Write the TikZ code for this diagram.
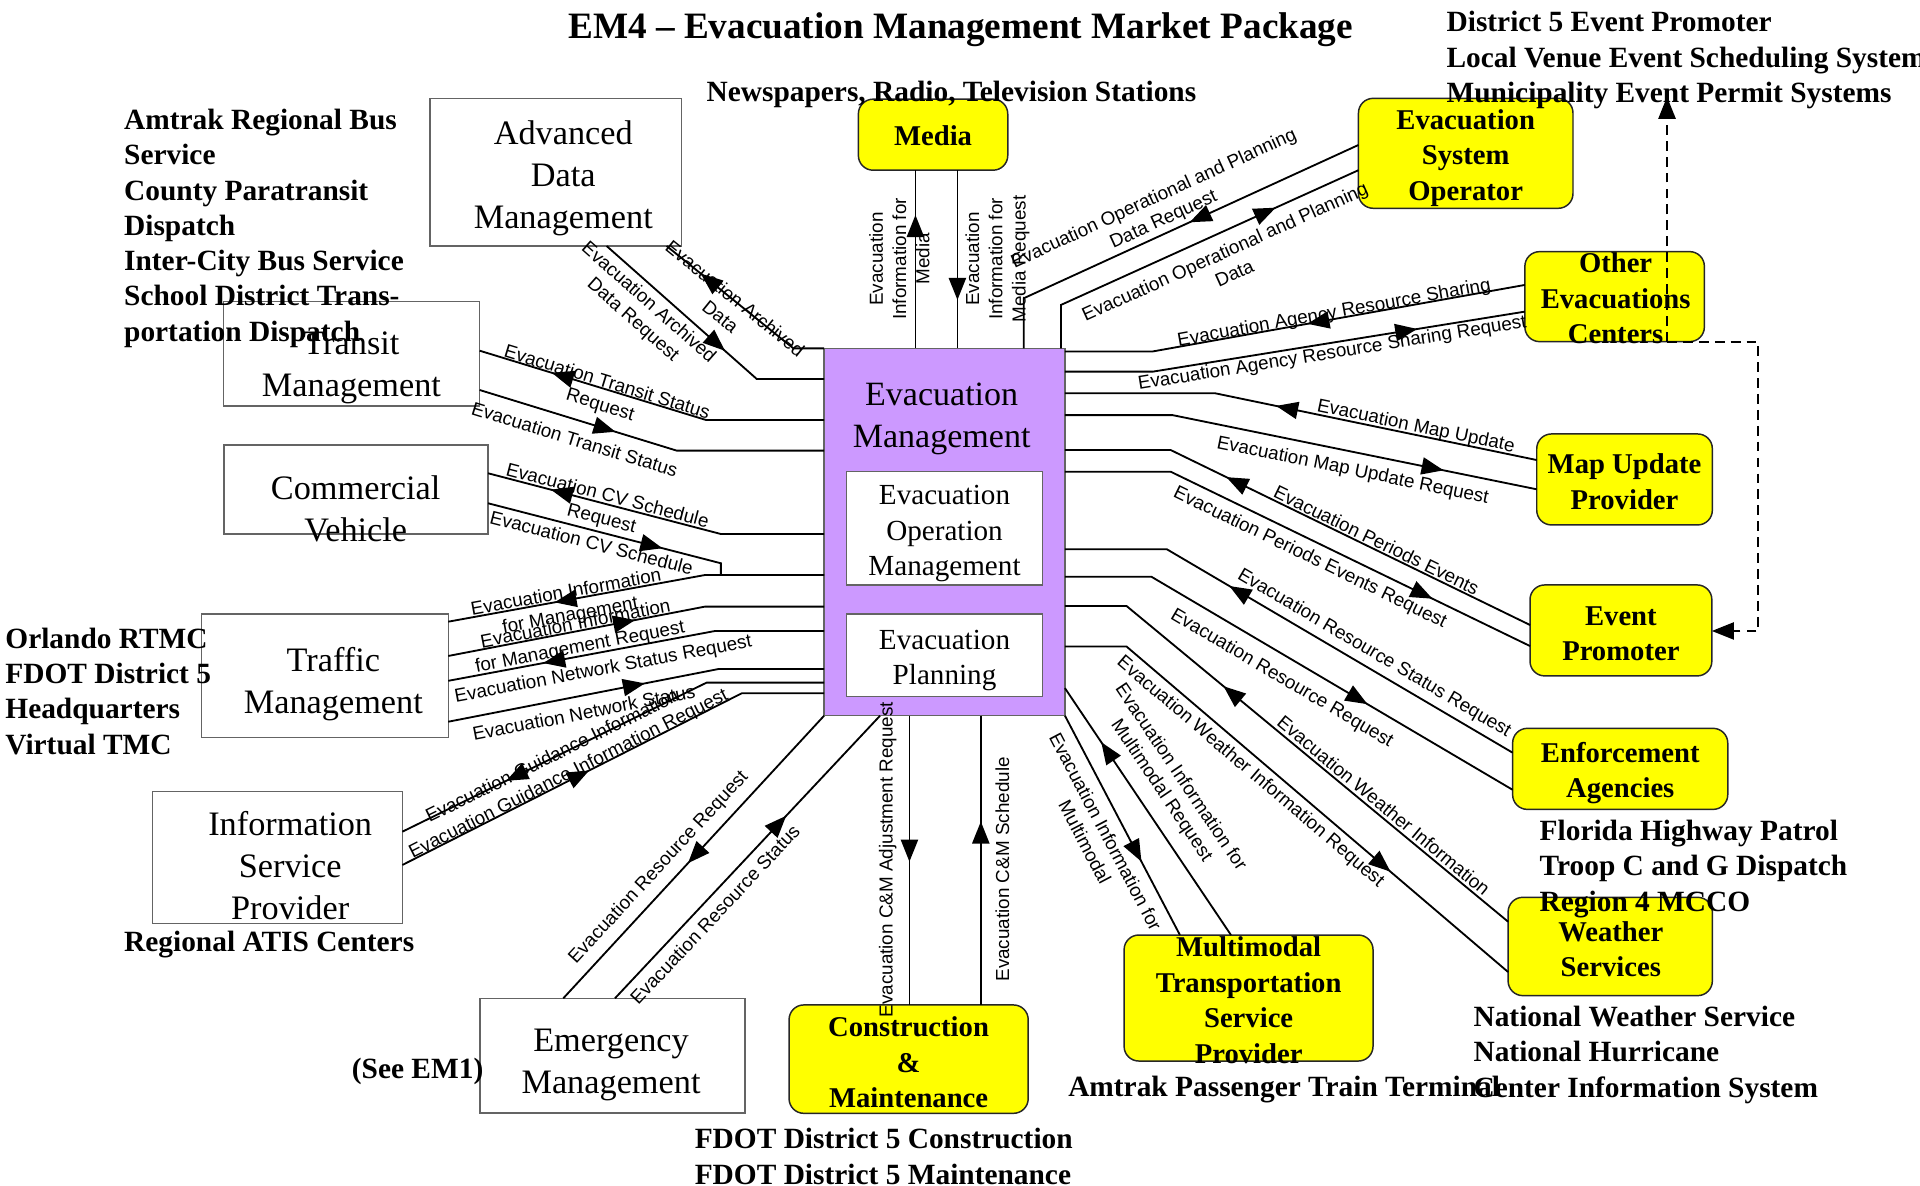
\documentclass[tikz,border=0pt]{standalone}
\usepackage{fontspec}
\setmainfont{Liberation Serif}
\setsansfont{Liberation Sans}
\usetikzlibrary{arrows.meta,calc,decorations.markings}
\definecolor{emP}{RGB}{204,153,255}
\definecolor{emY}{RGB}{255,255,0}
\definecolor{emG}{RGB}{100,100,100}
\tikzset{
  wbox/.style={draw=emG,line width=0.6pt,inner sep=0pt,outer sep=0pt},
  ybox/.style={draw=black!85,fill=emY,rounded corners=6pt,line width=0.6pt,inner sep=0pt,outer sep=0pt},
  boxsize/.style 2 args={minimum width=#1*0.5pt,minimum height=#2*0.5pt},
  btxt/.style={font=\fontsize{14}{17.25}\selectfont,align=center,inner sep=0pt,yshift=-1.5pt},
  ytxt/.style={font=\bfseries\fontsize{11.7}{14.5}\selectfont,align=center,inner sep=0pt},
  ann/.style={font=\bfseries\fontsize{12}{14.4}\selectfont,align=left,anchor=west,inner sep=0pt,yshift=-1pt},
  lbl/.style={font=\sffamily\fontsize{7.7}{9.5}\selectfont,align=center,inner sep=0pt},
  flow/.style={line width=0.75pt},
  fwdtip/.style={decoration={markings,mark=at position -#1 with {\arrow{Triangle[length=9pt,width=7pt]}}},postaction={decorate}},
  backtip/.style={decoration={markings,mark=at position -#1 with {\arrowreversed{Triangle[length=9pt,width=7pt]}}},postaction={decorate}},
  dashline/.style={line width=0.75pt,dash pattern=on 4pt off 2.5pt}
}

\begin{document}
\begin{tikzpicture}[x=0.5pt,y=-0.5pt]
\useasboundingbox (0,0) rectangle (1568,968);
\node[font=\bfseries\fontsize{15.2}{18}\selectfont,inner sep=0pt,yshift=-1pt] (title) at (784.5,22) {EM4 – Evacuation Management Market Package};
% centre
\node[wbox,fill=emP,boxsize={196.7}{300}] (evm) at (771.35,434.5) {};
\node[btxt,font=\fontsize{13.9}{17}\selectfont] (evm-t) at (769,339) {Evacuation\\Management};
\node[wbox,fill=white,boxsize={159.9}{92.7}] (eom) at (771.35,431.35) {};
\node[btxt,font=\fontsize{11.9}{14.5}\selectfont] (eom-t) at (771.35,433) {Evacuation\\Operation\\Management};
\node[wbox,fill=white,boxsize={159.9}{67.6}] (epl) at (771.35,535.2) {};
\node[btxt,font=\fontsize{11.9}{14.5}\selectfont] (epl-t) at (771.35,536.5) {Evacuation\\Planning};
% subsystems
\node[wbox,boxsize={205.7}{120.6}] (adm) at (453.85,140.6) {};
\node[btxt] (adm-t) at (460,142.5) {Advanced\\Data\\Management};
\node[wbox,boxsize={209.3}{85.2}] (trm) at (287.05,289) {};
\node[btxt] (trm-t) at (287,297.5) {Transit\\Management};
\node[wbox,boxsize={215.5}{72.7}] (cvo) at (290.85,399.75) {};
\node[btxt] (cvo-t) at (290.5,412.4) {Commercial\\Vehicle};
\node[wbox,boxsize={201.4}{100.7}] (tfm) at (265.4,551.75) {};
\node[btxt] (tfm-t) at (272.2,555.4) {Traffic\\Management};
\node[wbox,boxsize={203.9}{107.5}] (isp) at (226.65,700.25) {};
\node[btxt] (isp-t) at (237,703.8) {Information\\Service\\Provider};
\node[wbox,boxsize={216.4}{93.7}] (emm) at (500.2,862.15) {};
\node[btxt] (emm-t) at (499,866.5) {Emergency\\Management};
% terminators
\node[ybox,boxsize={122}{58}] (med) at (762,110) {};
\node[ytxt] (med-t) at (762,111) {Media};
\node[ybox,boxsize={175.2}{89.8}] (eso) at (1197,125.2) {};
\node[ytxt] (eso-t) at (1197,129) {Evacuation\\System\\Operator};
\node[ybox,boxsize={146.6}{73.5}] (oec) at (1318.6,242.25) {};
\node[ytxt] (oec-t) at (1319.4,243.6) {Other\\Evacuations\\Centers};
\node[ybox,boxsize={143.4}{74.3}] (mup) at (1326.7,391.55) {};
\node[ytxt] (mup-t) at (1326.7,393.5) {Map Update\\Provider};
\node[ybox,boxsize={148.5}{74.3}] (evp) at (1323.75,514.85) {};
\node[ytxt] (evp-t) at (1323.7,517.5) {Event\\Promoter};
\node[ybox,boxsize={175.7}{66.2}] (ena) at (1323.15,627.9) {};
\node[ytxt] (ena-t) at (1323.2,631.5) {Enforcement\\Agencies};
\node[ybox,boxsize={166.8}{80.3}] (wes) at (1315,772.95) {};
\node[ytxt] (wes-t) at (1315.5,775.1) {Weather\\Services};
\node[ybox,boxsize={203.3}{102.9}] (mmt) at (1019.65,815.05) {};
\node[ytxt] (mmt-t) at (1019.7,817) {Multimodal\\Transportation\\Service\\Provider};
\node[ybox,boxsize={195.3}{88.5}] (cnm) at (742.05,864.95) {};
\node[ytxt] (cnm-t) at (742,867.5) {Construction\\\&\\Maintenance};
% top flows
\draw[flow,fwdtip=18.3pt] (evm.north -| 747.6,0) -- (med.south -| 747.6,0);
\node[lbl,rotate=90] (l-med1) at (734.5,211.5) {Evacuation\\Information for\\Media};
\draw[flow,backtip=53pt] (evm.north -| 781.9,0) -- (med.south -| 781.9,0);
\node[lbl,rotate=90] (l-med2) at (814.6,211.5) {Evacuation\\Information for\\Media Request};
\draw[flow,backtip=75.8pt] (evm.north -| 836,0) -- (836,243.6) -- (eso.west |- 0,118.4) node[lbl,sloped,pos=0.434,yshift=9.9pt] (l-eso1) {Evacuation Operational and Planning\\Data Request};
\draw[flow,fwdtip=37.1pt] (evm.north -| 866.5,0) -- (866.5,249) -- (eso.west |- 0,139) node[lbl,sloped,pos=0.524,yshift=-12.5pt] (l-eso2) {Evacuation Operational and Planning\\Data};
% right flows
\draw[flow,backtip=90.2pt] (evm.east |- 0,287) -- (941.5,287) -- (oec.west |- 0,232.7) node[lbl,sloped,pos=0.49,yshift=2.2pt] (l-oec1) {Evacuation Agency Resource Sharing};
\draw[flow,fwdtip=44.5pt] (evm.east |- 0,303.5) -- (941.5,303.5) -- (oec.west |- 0,254.5) node[lbl,sloped,pos=0.478,yshift=-4.45pt] (l-oec2) {Evacuation Agency Resource Sharing Request};
\draw[flow,backtip=108.7pt] (evm.east |- 0,321.2) -- (992.5,321.2) -- (mup.west |- 0,375.7) node[lbl,sloped,pos=0.619,yshift=3.2pt] (l-mup1) {Evacuation Map Update};
\draw[flow,fwdtip=38.8pt] (evm.east |- 0,339) -- (957.5,339) -- (mup.west |- 0,399.6) node[lbl,sloped,pos=0.505,yshift=-7.65pt] (l-mup2) {Evacuation Map Update Request};
\draw[flow,backtip=137.9pt] (evm.east |- 0,367.5) -- (956,367.5) -- (evp.west |- 0,510.4) node[lbl,sloped,pos=0.562,yshift=3.7pt] (l-evp1) {Evacuation Periods Events};
\draw[flow,fwdtip=44.3pt] (evm.east |- 0,385.2) -- (956,385.2) -- (evp.west |- 0,527.6) node[lbl,sloped,pos=0.408,yshift=-6.9pt] (l-evp2) {Evacuation Periods Events Request};
\draw[flow,backtip=134.2pt] (evm.east |- 0,448.6) -- (953,448.6) -- (ena.west |- 0,614.7) node[lbl,sloped,pos=0.577,yshift=6.2pt] (l-ena1) {Evacuation Resource Status Request};
\draw[flow,fwdtip=68.8pt] (evm.east |- 0,471) -- (940.3,471) -- (ena.west |- 0,645) node[lbl,sloped,pos=0.391,yshift=-8.8pt] (l-ena2) {Evacuation Resource Request};
\draw[flow,backtip=150.8pt] (evm.east |- 0,494.9) -- (920,494.9) -- (wes.west |- 0,752.7) node[lbl,sloped,pos=0.657,yshift=4.2pt] (l-wes1) {Evacuation Weather Information};
\draw[flow,fwdtip=63.1pt] (evm.east |- 0,528) -- (920,528) -- (wes.west |- 0,793.8) node[lbl,sloped,pos=0.35,yshift=-6.2pt] (l-wes2) {Evacuation Weather Information Request};
% bottom flows
\draw[flow,fwdtip=33.7pt] (evm.south east) -- (mmt.north -| 963.6,0) node[lbl,sloped,pos=0.49,yshift=-11.95pt] (l-mmt1) {Evacuation Information for\\Multimodal};
\draw[flow,backtip=94.9pt] (evm.east |- 0,562) -- (mmt.north -| 1005.3,0) node[lbl,sloped,pos=0.466,yshift=14pt] (l-mmt2) {Evacuation Information for\\Multimodal Request};
\draw[flow,fwdtip=58.5pt] (evm.south -| 742.7,0) -- (cnm.north -| 742.7,0);
\node[lbl,rotate=90] (l-cnm1) at (725,702) {Evacuation C\&M Adjustment Request};
\draw[flow,backtip=74.9pt] (evm.south -| 801,0) -- (cnm.north -| 801,0);
\node[lbl,rotate=90] (l-cnm2) at (818.6,710) {Evacuation C\&M Schedule};
\draw[flow,fwdtip=75.1pt] (evm.south west) -- (emm.north -| 460,0) node[lbl,sloped,pos=0.582,yshift=7.5pt] (l-emm1) {Evacuation Resource Request};
\draw[flow,backtip=102.2pt] (evm.south -| 718.7,0) -- (emm.north -| 502.2,0) node[lbl,sloped,pos=0.666,yshift=-6.35pt] (l-emm2) {Evacuation Resource Status};
% left flows
\draw[flow,fwdtip=47.2pt] (evm.west |- 0,557.5) -- (577,557.5) -- (isp.east |- 0,679.2) node[lbl,sloped,pos=0.505,yshift=1.1pt] (l-isp1) {Evacuation Guidance Information};
\draw[flow,backtip=85.5pt] (evm.west |- 0,566.2) -- (605.7,566.2) -- (isp.east |- 0,706.4) node[lbl,sloped,pos=0.502,yshift=2.25pt] (l-isp2) {Evacuation Guidance Information Request};
\draw[flow,fwdtip=44.1pt] (evm.west |- 0,469.6) -- (575.7,469.6) -- (tfm.east |- 0,507.7) node[lbl,sloped,pos=0.536,yshift=-2pt] (l-tfm1) {Evacuation Information\\for Management};
\draw[flow,backtip=77.7pt] (evm.west |- 0,495.4) -- (575.7,495.4) -- (tfm.east |- 0,535.7) node[lbl,sloped,pos=0.499,yshift=-2.2pt] (l-tfm2) {Evacuation Information\\for Management Request};
\draw[flow,fwdtip=39.4pt] (evm.west |- 0,515.3) -- (584,515.3) -- (tfm.east |- 0,556) node[lbl,sloped,pos=0.431,yshift=-7.25pt] (l-tfm3) {Evacuation Network Status Request};
\draw[flow,backtip=81.8pt] (evm.west |- 0,546.4) -- (586.6,546.4) -- (tfm.east |- 0,589.4) node[lbl,sloped,pos=0.51,yshift=-6.95pt] (l-tfm4) {Evacuation Network Status};
\draw[flow,fwdtip=26.5pt] (evm.west |- 0,436.1) -- (588.7,436.1) -- (cvo.east |- 0,386.5) node[lbl,sloped,pos=0.496,yshift=-1.7pt] (l-cvo1) {Evacuation CV Schedule\\Request};
\draw[flow,backtip=73.5pt] (evm.west |- 0,469.6) -- (588.7,469.6) -- (588.7,460) -- (cvo.east |- 0,411) node[lbl,sloped,pos=0.542,yshift=-5pt] (l-cvo2) {Evacuation CV Schedule};
\draw[flow,fwdtip=30.8pt] (evm.west |- 0,343) -- (576.6,343) -- (trm.east |- 0,286.4) node[lbl,sloped,pos=0.446,yshift=-2.3pt] (l-trm1) {Evacuation Transit Status\\Request};
\draw[flow,backtip=58pt] (evm.west |- 0,368) -- (552.6,368) -- (trm.east |- 0,318.5) node[lbl,sloped,pos=0.489,yshift=-7.75pt] (l-trm2) {Evacuation Transit Status};
\draw[flow,backtip=64.5pt] (evm.west |- 0,309.5) -- (618,309.5) -- (adm.south -| 495.4,0) node[lbl,sloped,pos=0.656,yshift=-10.95pt] (l-adm1) {Evacuation Archived\\Data Request};
\draw[flow,fwdtip=17.9pt] (evm.north west) -- (647.9,284.5) -- (adm.south -| 544.4,0) node[lbl,sloped,pos=0.47,yshift=-3.8pt] (l-adm2) {Evacuation Archived\\Data};
% stakeholders
\node[ann,anchor=center] (a-news) at (777,75) {Newspapers, Radio, Television Stations};
\node[ann] (a-event) at (1181,47) {District 5 Event Promoter\\Local Venue Event Scheduling System\\Municipality Event Permit Systems};
\node[ann] (a-transit) at (101,184.5) {Amtrak Regional Bus\\Service\\County Paratransit\\Dispatch\\Inter-City Bus Service\\School District Trans-\\portation Dispatch};
\node[ann] (a-traffic) at (4,562.5) {Orlando RTMC\\FDOT District 5\\Headquarters\\Virtual TMC};
\node[ann] (a-atis) at (101,769.5) {Regional ATIS Centers};
\node[ann] (a-em1) at (287,873) {(See EM1)};
\node[ann] (a-cm) at (567,942.5) {FDOT District 5 Construction\\FDOT District 5 Maintenance};
\node[ann] (a-amtrak) at (872,888) {Amtrak Passenger Train Terminal};
\node[ann] (a-fhp) at (1257,707.5) {Florida Highway Patrol\\Troop C and G Dispatch\\Region 4 MCCO};
\node[ann] (a-nws) at (1203,859.5) {National Weather Service\\National Hurricane\\Center Information System};
% event links
\coordinate (evtip) at (1361.4,79);
\draw[dashline,-{Triangle[length=9pt,width=7pt]}] (oec.south -| 1361.4,0) -- (evtip);
\draw[dashline,-{Triangle[length=9pt,width=7pt]}] (oec.south -| 1361.4,0) -| (1435.7,515.3) -- (evp.east |- 0,515.3);
\end{tikzpicture}
\end{document}
